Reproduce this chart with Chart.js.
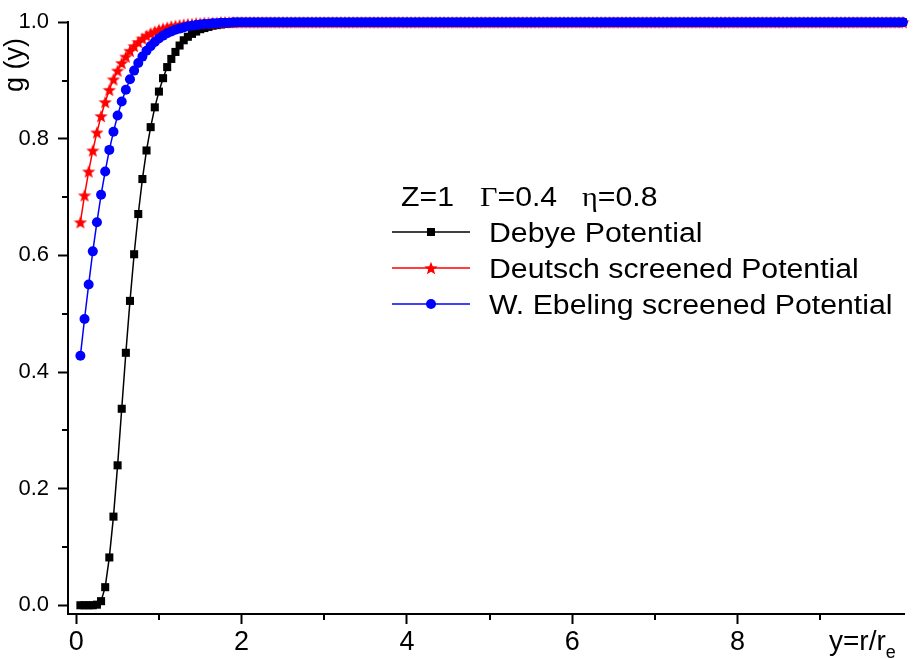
<!DOCTYPE html>
<html>
<head>
<meta charset="utf-8">
<script src="https://cdn.jsdelivr.net/npm/chart.js@4"></script>
<style>
  body { margin: 0; background: #fff; }
  canvas { display: block; }
</style>
</head>
<body>
<canvas id="gChart" width="913" height="659"></canvas>
<script>
// sampled radius y = r/re
const xValues = [
  0.05,0.1,0.15,0.2,0.25,0.3,0.35,0.4,0.45,0.5,0.55,0.6,0.65,0.7,0.75,0.8,0.85,0.9,0.95,1,
  1.05,1.1,1.15,1.2,1.25,1.3,1.35,1.4,1.45,1.5,1.55,1.6,1.65,1.7,1.75,1.8,1.85,1.9,1.95,2,
  2.05,2.1,2.15,2.2,2.25,2.3,2.35,2.4,2.45,2.5,2.55,2.6,2.65,2.7,2.75,2.8,2.85,2.9,2.95,3,
  3.05,3.1,3.15,3.2,3.25,3.3,3.35,3.4,3.45,3.5,3.55,3.6,3.65,3.7,3.75,3.8,3.85,3.9,3.95,4,
  4.05,4.1,4.15,4.2,4.25,4.3,4.35,4.4,4.45,4.5,4.55,4.6,4.65,4.7,4.75,4.8,4.85,4.9,4.95,5,
  5.05,5.1,5.15,5.2,5.25,5.3,5.35,5.4,5.45,5.5,5.55,5.6,5.65,5.7,5.75,5.8,5.85,5.9,5.95,6,
  6.05,6.1,6.15,6.2,6.25,6.3,6.35,6.4,6.45,6.5,6.55,6.6,6.65,6.7,6.75,6.8,6.85,6.9,6.95,7,
  7.05,7.1,7.15,7.2,7.25,7.3,7.35,7.4,7.45,7.5,7.55,7.6,7.65,7.7,7.75,7.8,7.85,7.9,7.95,8,
  8.05,8.1,8.15,8.2,8.25,8.3,8.35,8.4,8.45,8.5,8.55,8.6,8.65,8.7,8.75,8.8,8.85,8.9,8.95,9,
  9.05,9.1,9.15,9.2,9.25,9.3,9.35,9.4,9.45,9.5,9.55,9.6,9.65,9.7,9.75,9.8,9.85,9.9,9.95,10
];

const debyeG = [
  0,0,0,0,0.001,0.007,0.031,0.082,0.152,0.24,0.337,0.433,0.522,0.602,0.671,0.731,0.78,0.82,0.854,0.881,
  0.904,0.923,0.937,0.949,0.96,0.969,0.975,0.98,0.984,0.988,0.99,0.992,0.994,0.995,0.996,0.997,0.998,0.998,0.999,0.999,
  1,1,1,1,1,1,1,1,1,1,1,1,1,1,1,1,1,1,1,1,
  1,1,1,1,1,1,1,1,1,1,1,1,1,1,1,1,1,1,1,1,
  1,1,1,1,1,1,1,1,1,1,1,1,1,1,1,1,1,1,1,1,
  1,1,1,1,1,1,1,1,1,1,1,1,1,1,1,1,1,1,1,1,
  1,1,1,1,1,1,1,1,1,1,1,1,1,1,1,1,1,1,1,1,
  1,1,1,1,1,1,1,1,1,1,1,1,1,1,1,1,1,1,1,1,
  1,1,1,1,1,1,1,1,1,1,1,1,1,1,1,1,1,1,1,1,
  1,1,1,1,1,1,1,1,1,1,1,1,1,1,1,1,1,1,1,1
];

const deutschG = [
  0.657,0.703,0.744,0.78,0.811,0.839,0.863,0.884,0.902,0.917,0.93,0.941,0.951,0.959,0.966,0.972,0.977,0.981,0.984,0.987,
  0.989,0.991,0.993,0.994,0.995,0.996,0.997,0.997,0.998,0.998,0.999,0.999,0.999,0.999,1,1,1,1,1,1,
  1,1,1,1,1,1,1,1,1,1,1,1,1,1,1,1,1,1,1,1,
  1,1,1,1,1,1,1,1,1,1,1,1,1,1,1,1,1,1,1,1,
  1,1,1,1,1,1,1,1,1,1,1,1,1,1,1,1,1,1,1,1,
  1,1,1,1,1,1,1,1,1,1,1,1,1,1,1,1,1,1,1,1,
  1,1,1,1,1,1,1,1,1,1,1,1,1,1,1,1,1,1,1,1,
  1,1,1,1,1,1,1,1,1,1,1,1,1,1,1,1,1,1,1,1,
  1,1,1,1,1,1,1,1,1,1,1,1,1,1,1,1,1,1,1,1,
  1,1,1,1,1,1,1,1,1,1,1,1,1,1,1,1,1,1,1,1
];

const ebelingG = [
  0.428,0.491,0.55,0.607,0.657,0.704,0.744,0.781,0.812,0.84,0.864,0.884,0.902,0.917,0.93,0.941,0.951,0.959,0.966,0.972,
  0.977,0.981,0.984,0.987,0.989,0.991,0.993,0.994,0.995,0.996,0.997,0.997,0.998,0.998,0.999,0.999,0.999,1,1,1,
  1,1,1,1,1,1,1,1,1,1,1,1,1,1,1,1,1,1,1,1,
  1,1,1,1,1,1,1,1,1,1,1,1,1,1,1,1,1,1,1,1,
  1,1,1,1,1,1,1,1,1,1,1,1,1,1,1,1,1,1,1,1,
  1,1,1,1,1,1,1,1,1,1,1,1,1,1,1,1,1,1,1,1,
  1,1,1,1,1,1,1,1,1,1,1,1,1,1,1,1,1,1,1,1,
  1,1,1,1,1,1,1,1,1,1,1,1,1,1,1,1,1,1,1,1,
  1,1,1,1,1,1,1,1,1,1,1,1,1,1,1,1,1,1,1,1,
  1,1,1,1,1,1,1,1,1,1,1,1,1,1,1,1,1,1,1,1
];

const seriesNames = ['Debye Potential', 'Deutsch screened Potential', 'W. Ebeling screened Potential'];
const xMajorTicks = [0, 2, 4, 6, 8];
const xMinorTicks = [1, 3, 5, 7, 9];
const yMajorTicks = [0, 0.2, 0.4, 0.6, 0.8, 1.0];
const yMinorTicks = [0.1, 0.3, 0.5, 0.7, 0.9];

const SANS = '"Liberation Sans", Arial, sans-serif';
const SERIF = '"Liberation Serif", "Times New Roman", serif';

// filled five-point star, Chart.js only has an asterisk-like 'star'
function makeStar(size, color) {
    const c = document.createElement('canvas');
    c.width = size; c.height = size;
    const g = c.getContext('2d');
    const cx = size / 2, cy = size / 2 + 0.7;
    const outer = size / 2, inner = outer * 0.42;
    g.beginPath();
    for (let i = 0; i < 10; i++) {
        const r = i % 2 === 0 ? outer : inner;
        const a = -Math.PI / 2 + i * Math.PI / 5;
        g.lineTo(cx + r * Math.cos(a), cy + r * Math.sin(a));
    }
    g.closePath();
    g.fillStyle = color;
    g.fill();
    return c;
}
const redStar = makeStar(14, '#ff0000');

const toPoints = arr => xValues.map((x, i) => ({ x: x, y: arr[i] }));

function stretchedText(ctx, text, x, y, font, sx) {
    ctx.save();
    ctx.font = font;
    ctx.translate(x, y);
    ctx.scale(sx, 1);
    ctx.fillText(text, 0, 0);
    const w = ctx.measureText(text).width * sx;
    ctx.restore();
    return w;
}

// minor ticks, axis titles and the legend drawn like the original
const decorPlugin = {
    id: 'decor',
    afterDraw(chart) {
        const ctx = chart.ctx;
        const xs = chart.scales.x, ys = chart.scales.y;
        const area = chart.chartArea;
        ctx.save();
        ctx.strokeStyle = '#000';
        ctx.lineWidth = 2;
        xMinorTicks.forEach(v => {
            const px = Math.round(xs.getPixelForValue(v));
            ctx.beginPath();
            ctx.moveTo(px, area.bottom);
            ctx.lineTo(px, area.bottom + 6);
            ctx.stroke();
        });
        yMinorTicks.forEach(v => {
            const py = Math.round(ys.getPixelForValue(v));
            ctx.beginPath();
            ctx.moveTo(area.left, py);
            ctx.lineTo(area.left - 6, py);
            ctx.stroke();
        });

        ctx.fillStyle = '#000';
        ctx.textAlign = 'left';
        ctx.textBaseline = 'alphabetic';

        // y axis title
        ctx.save();
        ctx.translate(23, 92);
        ctx.rotate(-Math.PI / 2);
        ctx.font = '27px ' + SANS;
        ctx.fillText('g (y)', 0, 0);
        ctx.restore();

        // x axis title with subscript
        const w = stretchedText(ctx, 'y=r/r', 829, 650, '28px ' + SANS, 1.0);
        stretchedText(ctx, 'e', 829 + w, 658, '18px ' + SANS, 1.0);

        // legend header
        const f = '27px ' + SANS, fs = '27px ' + SERIF, sx = 1.12;
        stretchedText(ctx, 'Z=1', 401, 206, f, sx);
        let gx = 480;
        gx += stretchedText(ctx, 'Γ', gx, 206, fs, sx);
        stretchedText(ctx, '=0.4', gx, 206, f, sx);
        gx = 582;
        gx += stretchedText(ctx, 'η', gx, 206, fs, sx);
        stretchedText(ctx, '=0.8', gx, 206, f, sx);

        // legend rows
        const rowsY = [232, 268, 304];
        const colors = ['#000000', '#ff0000', '#0000ff'];
        rowsY.forEach((ry, i) => {
            ctx.strokeStyle = colors[i];
            ctx.lineWidth = 1.5;
            ctx.beginPath();
            ctx.moveTo(392, ry);
            ctx.lineTo(470, ry);
            ctx.stroke();
            ctx.fillStyle = colors[i];
            if (i === 0) {
                ctx.fillRect(427, ry - 4, 8, 8);
            } else if (i === 1) {
                ctx.drawImage(redStar, 431 - 7, ry - 7);
            } else {
                ctx.beginPath();
                ctx.arc(431, ry, 5, 0, Math.PI * 2);
                ctx.fill();
            }
            ctx.fillStyle = '#000';
            stretchedText(ctx, seriesNames[i], 489, ry + 10, f, sx);
        });
        ctx.restore();
    }
};

new Chart(document.getElementById('gChart'), {
    type: 'line',
    data: {
        datasets: [
            {
                label: seriesNames[0],
                data: toPoints(debyeG),
                borderColor: '#000000',
                backgroundColor: '#000000',
                borderWidth: 1.5,
                pointStyle: 'rect',
                pointRadius: 5.7,
                pointBorderWidth: 0,
                clip: false,
                order: 3
            },
            {
                label: seriesNames[1],
                data: toPoints(deutschG),
                borderColor: '#ff0000',
                backgroundColor: '#ff0000',
                borderWidth: 1.5,
                pointStyle: redStar,
                pointRadius: 7,
                clip: false,
                order: 2
            },
            {
                label: seriesNames[2],
                data: toPoints(ebelingG),
                borderColor: '#0000ff',
                backgroundColor: '#0000ff',
                borderWidth: 1.5,
                pointStyle: 'circle',
                pointRadius: 5,
                pointBorderWidth: 0,
                clip: false,
                order: 1
            }
        ]
    },
    options: {
        responsive: false,
        animation: false,
        layout: { padding: { top: 19, right: 3, left: 0, bottom: 0 } },
        plugins: {
            legend: { display: false },
            tooltip: { enabled: false }
        },
        scales: {
            x: {
                type: 'linear',
                min: -0.1,
                max: 10.02,
                afterFit: s => { s.height = 45; },
                afterBuildTicks: s => { s.ticks = xMajorTicks.map(v => ({ value: v })); },
                border: { display: true, color: '#000', width: 2 },
                grid: { drawOnChartArea: false, drawTicks: true, tickLength: 10, tickWidth: 2, tickColor: '#000' },
                ticks: {
                    color: '#000',
                    padding: 2,
                    maxRotation: 0,
                    font: { family: SANS, size: 27 },
                    callback: v => String(v)
                }
            },
            y: {
                type: 'linear',
                min: -0.015,
                max: 1.0,
                afterFit: s => { s.width = 68; },
                afterBuildTicks: s => { s.ticks = yMajorTicks.map(v => ({ value: v })); },
                border: { display: true, color: '#000', width: 2 },
                grid: { drawOnChartArea: false, drawTicks: true, tickLength: 10, tickWidth: 2, tickColor: '#000' },
                ticks: {
                    color: '#000',
                    padding: 9,
                    font: { family: SANS, size: 22 },
                    callback: v => v.toFixed(1)
                }
            }
        }
    },
    plugins: [decorPlugin]
});
</script>
</body>
</html>
